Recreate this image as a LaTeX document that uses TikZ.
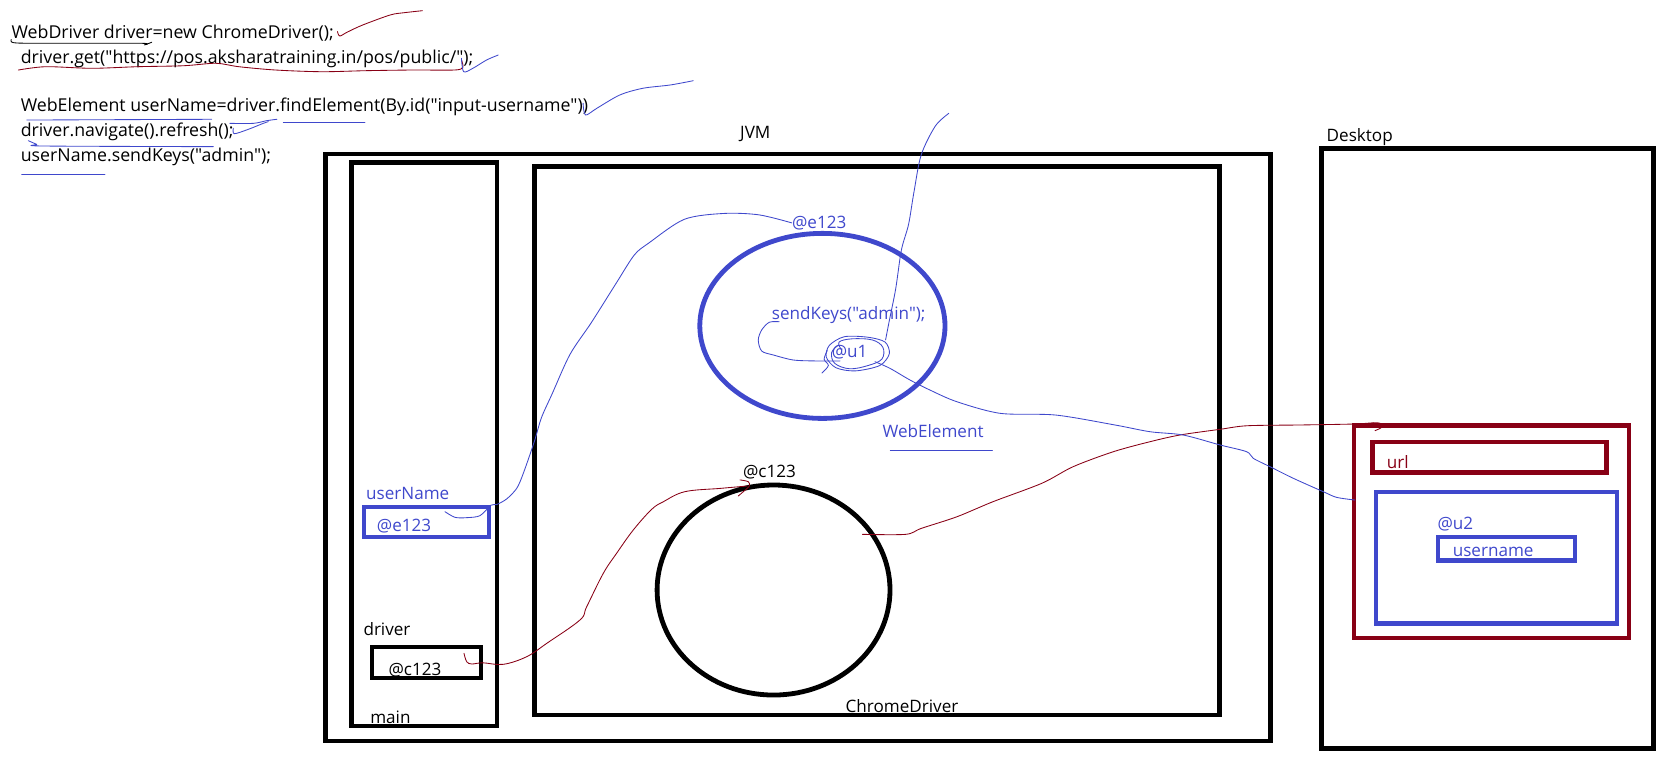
\documentclass[tikz,border=0pt]{standalone}
\usepackage{fontspec}
\newfontfamily\drawfont{Open Sans}
\usetikzlibrary{shapes.geometric}

\definecolor{penblue}{RGB}{63,72,204}
\definecolor{penred}{RGB}{136,0,21}

\tikzset{
  frame/.style={draw, line width=4.5pt, inner sep=0pt},
  cell/.style={draw, line width=4pt, inner sep=0pt},
  obj/.style={draw, ellipse, line width=4.5pt, inner sep=0pt},
  txt/.style={anchor=base west, inner sep=0pt, font=\drawfont\fontsize{16}{19}\selectfont},
  code/.style={txt, font=\drawfont\fontsize{16.6}{19}\selectfont},
  pen/.style={line width=0.8pt, line join=round, line cap=round},
}

\begin{document}
\begin{tikzpicture}[x=1pt,y=-1pt]
\useasboundingbox (0,0) rectangle (1568,714);

% source code
\node[code] (code1) at (10.7,35.9) {WebDriver driver=new ChromeDriver();};
\node[code] (code2) at (19.3,59.3) {driver.get("https://pos.aksharatraining.in/pos/public/");};
\node[code] (code3) at (19.3,104.5) {WebElement userName=driver.findElement(By.id("input-username"))};
\node[code] (code4) at (19.3,127.9) {driver.navigate().refresh();};
\node[code] (code5) at (19.3,151.2) {userName.sendKeys("admin");};

% jvm and desktop
\node[frame, minimum width=884.2pt, minimum height=549.2pt] (jvm) at (746.5,418.6) {};
\node[frame, minimum width=136.1pt, minimum height=527.2pt] (mainfr) at (397,415.6) {};
\node[frame, minimum width=640.8pt, minimum height=513.4pt] (heap) at (820.6,412.2) {};
\node[frame, minimum width=310.3pt, minimum height=561.5pt] (desk) at (1391.7,419.8) {};
\node[txt] (jvmlbl) at (692.3,129.4) {JVM};
\node[txt] (desklbl) at (1241,132) {Desktop};
\node[txt] (mainlbl) at (346.2,677.3) {main};
\node[txt] (heaplbl) at (791,666.4) {ChromeDriver};

% references in main
\node[cell, draw=penblue, minimum width=116.7pt, minimum height=27.5pt] (ubox) at (398.9,488.4) {};
\node[cell, minimum width=102pt, minimum height=29pt] (dbox) at (398.7,620.1) {};
\node[txt, text=penblue] (ulbl) at (342.4,467.1) {userName};
\node[txt, text=penblue] (uval) at (352.4,497.4) {@e123};
\node[txt] (dlbl) at (339.9,595) {driver};
\node[txt] (dval) at (363.3,631.5) {@c123};

% objects
\node[obj, draw=penblue, minimum width=229.4pt, minimum height=173.1pt] (eobj) at (769.4,304.9) {};
\node[obj, minimum width=217.9pt, minimum height=196.5pt] (cobj) at (723.7,552) {};
\node[txt, text=penblue] (elbl) at (740.8,213.6) {@e123};
\node[txt, text=penblue] (sendlbl) at (722,298.7) {sendKeys("admin");};
\node[txt, text=penblue] (u1lbl) at (778,334.6) {@u1};
\node[txt, text=penblue] (welbl) at (825.5,409.2) {WebElement};
\node[txt] (clbl) at (695,446.6) {@c123};

% browser window
\node[cell, draw=penred, minimum width=257pt, minimum height=199pt] (web) at (1395.5,497.7) {};
\node[cell, draw=penred, minimum width=219.1pt, minimum height=28.1pt] (url) at (1393.5,427.9) {};
\node[cell, draw=penblue, minimum width=225pt, minimum height=122.6pt] (page) at (1400,521.9) {};
\node[cell, draw=penblue, minimum width=127.9pt, minimum height=22.4pt] (field) at (1409.6,513.3) {};
\node[txt, text=penred] (urllbl) at (1297.3,438.2) {url};
\node[txt, text=penblue] (u2lbl) at (1344.7,495.2) {@u2};
\node[txt, text=penblue] (fieldlbl) at (1359,520.8) {username};

% pen marks on the code
\draw[pen] plot[smooth] coordinates {(10.5,37) (13,40) (40,40.5) (132,40.5) (135,42) (142,39.5)};
\draw[pen, penred] plot[smooth, tension=.5] coordinates {(315.7,29.5) (317.9,33.7) (325,30) (339.3,23.4) (365.1,14) (378,11.9) (395.2,10)};
\draw[pen, penred] plot[smooth] coordinates {(17.2,65.5) (42.9,62.4) (85.9,63.9) (128.8,62.4) (171.9,61.5) (201.9,59.2) (223.3,62.4) (257.7,65.5) (300.7,67.1) (343.6,66.1) (386.6,65.5) (425.2,65.5) (433,63) (431.7,56.1)};
\draw[pen, penblue] plot[smooth, tension=.5] coordinates {(431.7,54.5) (433.8,67.1) (442.4,63.9) (455.3,56.1) (466.1,51.5)};
\draw[pen, penblue] plot[smooth, tension=.5] coordinates {(545.5,96.6) (547.7,107.6) (558.4,101.3) (579.8,88.9) (601.4,82.6) (627.1,79.5) (648.6,75.5)};
\draw[pen, penblue] (25,112.3) -- (198,111.6);
\draw[pen, penblue] plot[smooth, tension=.5] coordinates {(215,115.4) (237,115.4) (249.5,112.9) (259,111.6)};
\draw[pen, penblue] plot[smooth, tension=.5] coordinates {(218.3,120) (219.2,125.1) (232.3,121) (246.3,115.4) (251,113.8)};
\draw[pen, penblue] (265,114.8) -- (341.5,114.8);
\draw[pen, penblue] plot[smooth] coordinates {(26.5,131.6) (34.3,135) (40.5,136.6) (199.6,137.2)};
\draw[pen, penblue] (20.3,162.8) -- (98.2,162.8);
\draw[pen, penblue] (833,421.6) -- (928.4,421.6);

% userName -> WebElement object
\draw[pen, penblue] plot[smooth] coordinates {(416.3,478.7) (425.7,484) (436.6,484.3) (449.1,482.4) (ubox.north east) (464.7,472) (474,466.8) (483.4,456.9) (489.6,442.8) (499.9,413.1) (506.5,390.9) (516.5,368.6) (533.3,331.5) (553.3,301.7) (576.7,264.6) (593.4,238.6) (606.8,227.5) (640.2,205.2) (677,199.7) (710,201) (elbl.west)};

% driver -> ChromeDriver object
\draw[pen, penred] plot[smooth, tension=.6] coordinates {(434.1,611.2) (436.6,619) (441.3,621.2) (dbox.east) (470.9,621.5) (492.7,614.4) (511.5,601.9) (542.6,580) (548.9,567.6) (564.4,536.4) (576.9,517.6) (592.5,495.8) (609.7,476.5) (620.6,469.4) (640.7,460) (674,456.9) (699.1,454.7)};
\draw[pen, penred] plot[smooth, tension=.5] coordinates {(692.3,449) (700,450.6) (701,454.7) (695.4,460) (690.7,464)};

% ChromeDriver object -> browser
\draw[pen, penred] plot[smooth, tension=.5] coordinates {(806.9,499.9) (847.4,499.9) (862,494.3) (895.4,483.4) (928.9,469.4) (974.8,452.1) (1004,436.6) (1041.6,422.6) (1076,413.2) (1104.3,406.9) (1141.8,401.6) (1166.9,398.3) (1216.2,397.6) (1266,396.7) (1284.8,395.5)};
\draw[pen, penred] plot[smooth, tension=.5] coordinates {(1284.8,395.5) (1291,396) (1292.7,399.7) (1286.4,402.9)};

% @u1 scribble and its links
\draw[pen, penblue] plot[smooth, tension=.5] coordinates {(729,301) (719.7,301.5) (712.6,308.7) (709.4,318.1) (712.6,328.4) (723.5,332.1) (742.2,336.8) (764,337.7) (785.9,337.7)};
\draw[pen, penblue] plot[smooth cycle] coordinates {(776,323) (790,315) (812,315.5) (828,320) (832,331) (823,342) (800,347) (782,344) (773,334)};
\draw[pen, penblue] plot[smooth, tension=.6] coordinates {(787,327) (785,320) (797,317) (816,318) (826,325) (825,336) (812,342) (795,345) (781,340) (778,330) (784,323)};
\draw[pen, penblue] plot[smooth, tension=.5] coordinates {(774,328) (771,336) (775,342) (769,349)};
\draw[pen, penblue] plot[smooth] coordinates {(887.7,106) (875,118) (861.8,145) (855,180) (850,210) (843.3,233.9) (838,270) (832,300) (828.5,318)};
\draw[pen, penblue] plot[smooth, tension=.5] coordinates {(818.6,338.4) (832.6,344.6) (851.3,355.5) (870,364.9) (895.1,375.8) (935.8,386.7) (987.6,388.3) (1043.1,397.6) (1075.9,403.9) (1107,407) (1141.4,416.3) (1166.3,422.6) (1172.5,428.8) (1188.1,436.6) (1210,447.5) (1238,460) (1250.5,465.3) (1267.6,467.8)};

\end{tikzpicture}
\end{document}
